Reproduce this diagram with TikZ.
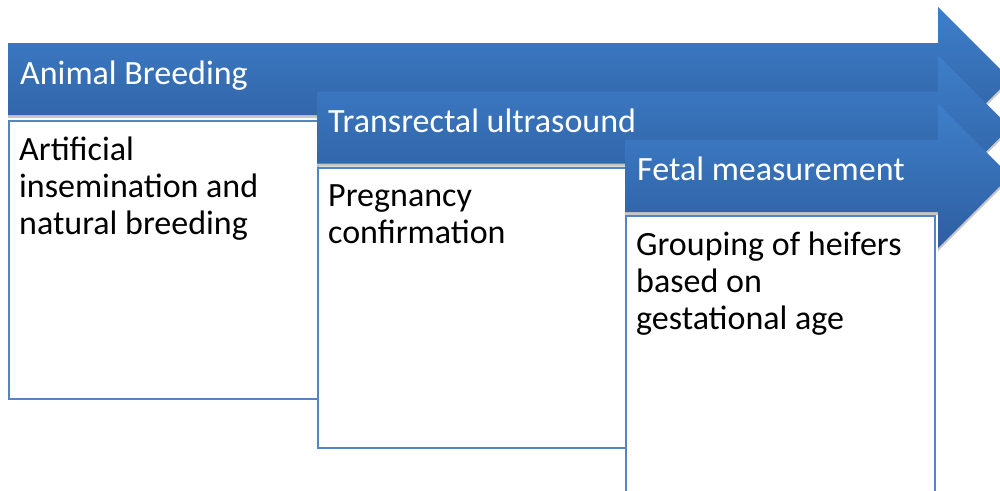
\documentclass[tikz,border=0pt]{standalone}
\usepackage{fontspec}
\setmainfont{Carlito}
\usetikzlibrary{positioning}

\definecolor{arrowtop}{RGB}{62,127,202}
\definecolor{arrowbot}{RGB}{46,94,160}
\definecolor{boxline}{RGB}{84,132,196}

\tikzset{
  stagearrow/.style={top color=arrowtop, bottom color=arrowbot, draw=none},
  arrowshadow/.style={fill=black!22, draw=none},
  headtext/.style={text=white, font=\fontsize{34}{37}\selectfont, inner sep=0pt, anchor=base west},
  stagebox/.style={draw=boxline, line width=1.8pt, fill=white, anchor=north west, inner sep=0pt},
  boxtext/.style={font=\fontsize{34}{37}\selectfont, align=left, anchor=north west,
                  inner xsep=0pt, inner ysep=0pt}
}

% block arrow: start x, centre y
\newcommand{\flowarrow}[2]{%
  \fill[arrowshadow] (#1,#2-36+3) -- (938,#2-36+3) -- (938,#2-72+3) -- (1010,#2+3)
        -- (938,#2+72+3) -- (938,#2+36+3) -- (#1,#2+36+3) -- cycle;
  \shade[stagearrow] (#1,#2-36) -- (938,#2-36) -- (938,#2-72) -- (1010,#2)
        -- (938,#2+72) -- (938,#2+36) -- (#1,#2+36) -- cycle;
}

\begin{document}
\begin{tikzpicture}[x=1pt, y=-1pt]
    \useasboundingbox (0,0) rectangle (1000,490);

    % stage 1
    \flowarrow{8}{79}
    \node[headtext] (breedhead) at (20,84) {Animal Breeding};
    \node[stagebox, minimum width=309pt, minimum height=278pt] (breedbox) at (8,120) {};
    \node[boxtext, below right=17pt and 11pt of breedbox.north west, anchor=north west] (breedtext)
        {Artificial\\insemination and\\natural breeding};

    % stage 2
    \flowarrow{317}{127.5}
    \node[headtext] (scanhead) at (328,132) {Transrectal ultrasound};
    \node[stagebox, minimum width=308pt, minimum height=280pt] (scanbox) at (317,167) {};
    \node[boxtext, below right=17pt and 11pt of scanbox.north west, anchor=north west] (scantext)
        {Pregnancy\\confirmation};

    % stage 3
    \flowarrow{625}{176}
    \node[headtext] (fetushead) at (637,180) {Fetal measurement};
    \node[stagebox, minimum width=309pt, minimum height=290pt] (fetusbox) at (625,215) {};
    \node[boxtext, below right=17pt and 11pt of fetusbox.north west, anchor=north west] (fetustext)
        {Grouping of heifers\\based on\\gestational age};
\end{tikzpicture}
\end{document}
